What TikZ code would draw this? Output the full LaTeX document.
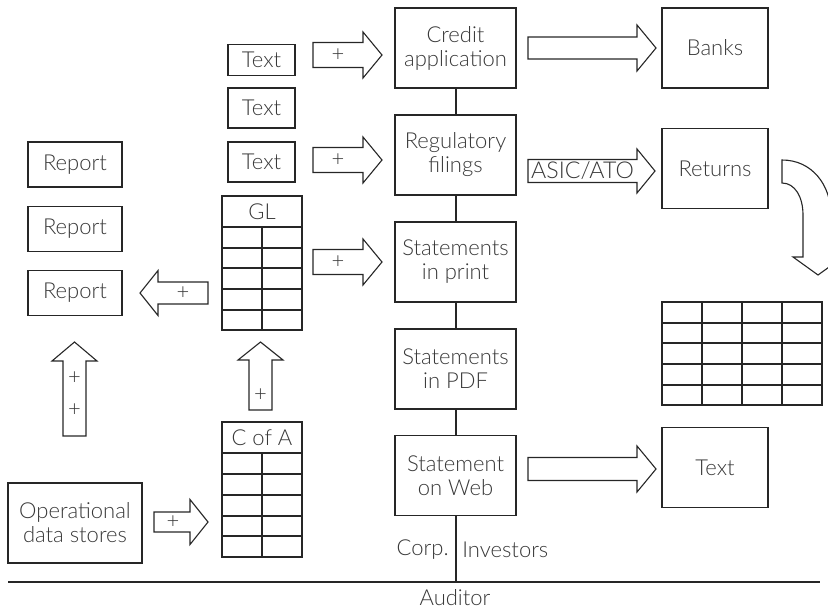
\documentclass[tikz,border=0pt]{standalone}
\usepackage{fontspec}
\setmainfont{Lato Light}
\usepackage{tikz}
\usetikzlibrary{calc}

\definecolor{linecol}{gray}{0.15}
\definecolor{txtcol}{gray}{0.22}

% fat outline arrow: tail, angle, length, half shaft, half head, head length
\newcommand{\fatarrow}[6]{%
  \draw[arrowline,shift={#1},rotate=#2] (0,-#4) -- ({#3-#6},-#4) -- ({#3-#6},-#5)
    -- (#3,0) -- ({#3-#6},#5) -- ({#3-#6},#4) -- (0,#4) -- cycle;}

\begin{document}
\begin{tikzpicture}[x=0.5pt,y=-0.5pt]
\tikzstyle{every node}=[text=txtcol,font=\fontsize{11}{12}\selectfont,align=center,inner sep=0pt];
\tikzstyle{box}=[draw=linecol,line width=0.65pt];
\tikzstyle{colbox}=[box,minimum width=60.5pt,minimum height=40pt];
\tikzstyle{sidebox}=[box,minimum width=53pt,minimum height=40pt];
\tikzstyle{txtbox}=[box,minimum width=33.5pt,minimum height=20pt];
\tikzstyle{repbox}=[box,minimum width=47pt,minimum height=22.5pt];
\tikzstyle{arrowline}=[draw=linecol,line width=0.55pt,line join=miter];
\tikzstyle{tbl}=[draw=linecol,line width=0.65pt];
\tikzstyle{spine}=[draw=linecol,line width=1pt];
\useasboundingbox (0,0) rectangle (828,610);

% middle column
\node[colbox] (credit) at (455.5,48) {Credit\\application};
\node[colbox] (reg) at (455.5,155) {Regulatory\\filings};
\node[colbox] (print) at (455.5,262) {Statements\\in print};
\node[colbox] (pdf) at (455.5,369) {Statements\\in PDF};
\node[colbox] (web) at (455.5,475.5) {Statement\\on Web};

% right column
\node[sidebox] (banks) at (715,48) {Banks};
\node[sidebox] (returns) at (715,168.5) {Returns};
\node[sidebox] (outtext) at (715,467.5) {Text};

% text boxes
\node[txtbox,minimum height=15.5pt] (txtA) at (261.5,60) {Text};
\node[txtbox] (txtB) at (261.5,108) {Text};
\node[txtbox] (txtC) at (261.5,162) {Text};

% reports
\node[repbox] (repA) at (75,164.5) {Report};
\node[repbox] (repB) at (75,229) {Report};
\node[repbox] (repC) at (75,293) {Report};

\node[box,minimum width=67pt,minimum height=40pt] (ops) at (75,523) {Operational\\data stores};

% GL table
\node[box,minimum width=40pt,minimum height=15.5pt] (gl) at (262,211.5) {GL};
\draw[tbl] (222,227) rectangle (302,330);
\foreach \y in {248,268,289,310} \draw[tbl] (222,\y) -- (302,\y);
\draw[tbl] (262,227) -- (262,330);

% C of A table
\node[box,minimum width=40pt,minimum height=15.5pt] (coa) at (262,437.5) {C of A};
\draw[tbl] (222,453) rectangle (302,557);
\foreach \y in {474,495,516,536} \draw[tbl] (222,\y) -- (302,\y);
\draw[tbl] (262,453) -- (262,557);

% returns table
\draw[tbl] (662,302) rectangle (822,405);
\foreach \y in {323,343,364,385} \draw[tbl] (662,\y) -- (822,\y);
\foreach \x in {702,742,782} \draw[tbl] (\x,302) -- (\x,405);

% spine and auditor line
\coordinate (audL) at (8,582);
\coordinate (audR) at (820,582);
\draw[spine] (credit) -- (reg);
\draw[spine] (reg) -- (print);
\draw[spine] (print) -- (pdf);
\draw[spine] (pdf) -- (web);
\draw[spine] (web.south) -- (web.south |- audL);
\draw[spine] (audL) -- (audR);
\node[anchor=east] (corp) at (449,550) {Corp.};
\node[anchor=west] (inv) at (462,550) {Investors};
\node (aud) at (455,598) {Auditor};

% fat arrows
\fatarrow{(313,55)}{0}{69}{12.5}{23}{19}
\fatarrow{(313,160)}{0}{69}{12.5}{23}{19}
\fatarrow{(313,262)}{0}{69}{12.5}{23}{19}
\fatarrow{(528,48)}{0}{128}{11}{23}{19}
\fatarrow{(528,171)}{0}{127}{11.5}{22}{18}
\fatarrow{(528,469)}{0}{128}{11.5}{23}{19}
\fatarrow{(208,293)}{180}{68}{11}{22.5}{18}
\fatarrow{(260.5,410)}{90}{68}{11.5}{22.5}{18}
\fatarrow{(74.5,436)}{90}{94}{11.5}{22.5}{19}
\fatarrow{(154,522)}{0}{54}{10}{22.5}{18}
\node (p1) at (338,55) {+};
\node (p2) at (338,160) {+};
\node (p3) at (338,262) {+};
\node (p4) at (183,293) {+};
\node (p5) at (260.5,395) {+};
\node (p6) at (74.5,378) {+};
\node (p7) at (74.5,410) {+};
\node (p8) at (173,522) {+};
\node[font=\fontsize{11.6}{12}\selectfont] (asic) at (582.5,171) {ASIC/ATO};

% curved arrow from returns down to table
\draw[arrowline] (782,160) .. controls (812,160) and (831,185) .. (831,215) -- (831,257)
  -- (843,257) -- (818,275) -- (793,257) -- (803,257) -- (803,215)
  .. controls (803,197) and (795,183) .. (782,183) -- cycle;
\end{tikzpicture}
\end{document}
